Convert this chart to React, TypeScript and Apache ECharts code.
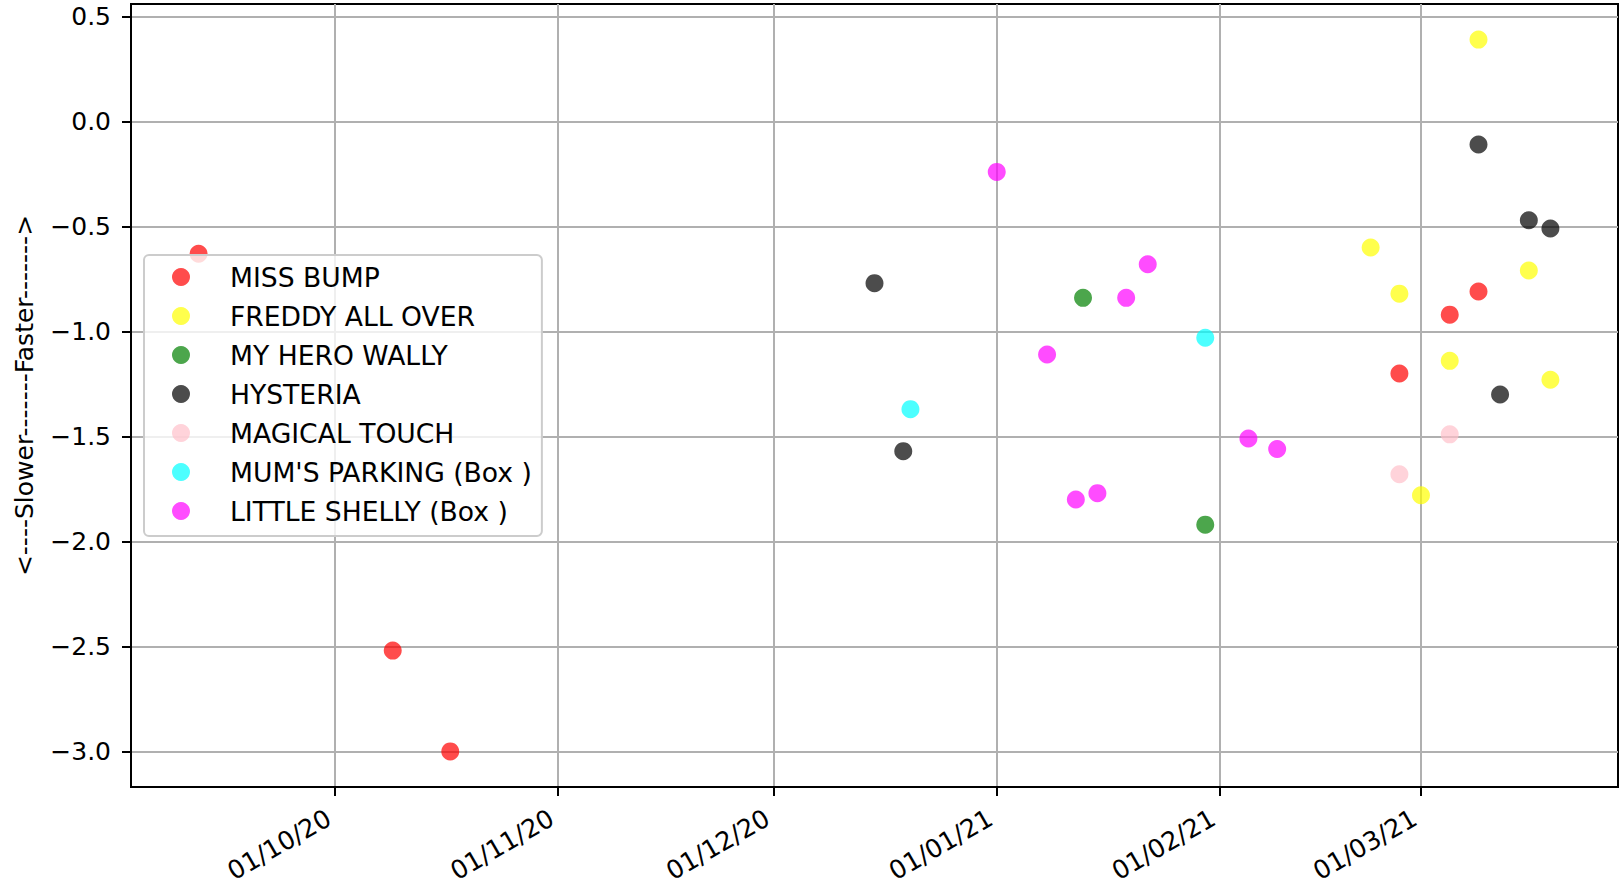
import React, { useEffect, useRef } from "react";
import * as echarts from "echarts";

const FONT = "DejaVu Sans";

const seriesNames = [
  "MISS BUMP",
  "FREDDY ALL OVER",
  "MY HERO WALLY",
  "HYSTERIA",
  "MAGICAL TOUCH",
  "MUM'S PARKING (Box )",
  "LITTLE SHELLY (Box )",
];
const seriesColors = [
  "rgba(255,0,0,0.7)",
  "rgba(255,255,0,0.7)",
  "rgba(0,128,0,0.7)",
  "rgba(0,0,0,0.7)",
  "rgba(255,192,203,0.7)",
  "rgba(0,255,255,0.7)",
  "rgba(255,0,255,0.7)",
];

const missBumpDates = ["2020-09-12", "2020-10-09", "2020-10-17", "2021-02-26", "2021-03-05", "2021-03-09"];
const missBumpValues = [-0.63, -2.52, -3.0, -1.2, -0.92, -0.81];

const freddyDates = ["2021-02-22", "2021-02-26", "2021-03-01", "2021-03-05", "2021-03-09", "2021-03-16", "2021-03-19"];
const freddyValues = [-0.6, -0.82, -1.78, -1.14, 0.39, -0.71, -1.23];

const wallyDates = ["2021-01-13", "2021-01-30"];
const wallyValues = [-0.84, -1.92];

const hysteriaDates = ["2020-12-15", "2020-12-19", "2021-03-09", "2021-03-12", "2021-03-16", "2021-03-19"];
const hysteriaValues = [-0.77, -1.57, -0.11, -1.3, -0.47, -0.51];

const magicalDates = ["2021-02-26", "2021-03-05"];
const magicalValues = [-1.68, -1.49];

const mumsDates = ["2020-12-20", "2021-01-30"];
const mumsValues = [-1.37, -1.03];

const shellyDates = ["2021-01-01", "2021-01-08", "2021-01-12", "2021-01-15", "2021-01-19", "2021-01-22", "2021-02-05", "2021-02-09"];
const shellyValues = [-0.24, -1.11, -1.8, -1.77, -0.84, -0.68, -1.51, -1.56];

const xTickDates = ["2020-10-01", "2020-11-01", "2020-12-01", "2021-01-01", "2021-02-01", "2021-03-01"];
const yTicks = [-3.0, -2.5, -2.0, -1.5, -1.0, -0.5, 0.0, 0.5];
const yAxisTitle = "<----Slower-------Faster------->";

const toTime = (s: string) => {
  const [y, m, d] = s.split("-").map(Number);
  return new Date(y, m - 1, d).getTime();
};
const pad = (n: number) => (n < 10 ? "0" + n : "" + n);

export default function App() {
  const ref = useRef<HTMLDivElement>(null);

  useEffect(() => {
    if (!ref.current) return;
    const chart = echarts.init(ref.current, null, { renderer: "svg" });

    const allDates = [missBumpDates, freddyDates, wallyDates, hysteriaDates, magicalDates, mumsDates, shellyDates];
    const allValues = [missBumpValues, freddyValues, wallyValues, hysteriaValues, magicalValues, mumsValues, shellyValues];

    const times = allDates.flat().map(toTime);
    const vals = allValues.flat();
    const tMin = Math.min(...times);
    const tMax = Math.max(...times);
    const vMin = Math.min(...vals);
    const vMax = Math.max(...vals);
    const tSpan = tMax - tMin;
    const vSpan = vMax - vMin;

    const tickTimes = xTickDates.map(toTime);

    const series = seriesNames.map((name, i) => ({
      name,
      type: "scatter",
      symbol: "circle",
      symbolSize: 18,
      itemStyle: { color: seriesColors[i], opacity: 1 },
      emphasis: { disabled: true },
      data: allDates[i].map((d, j) => [toTime(d), allValues[i][j]]),
    }));

    chart.setOption({
      animation: false,
      backgroundColor: "#ffffff",
      textStyle: { fontFamily: FONT },
      grid: {
        left: 131,
        top: 4,
        right: 1,
        bottom: 101,
        show: true,
        borderColor: "#000000",
        borderWidth: 2,
        backgroundColor: "transparent",
        outerBoundsMode: "none",
      },
      legend: {
        orient: "vertical",
        left: 144,
        top: 255,
        icon: "circle",
        itemWidth: 18,
        itemHeight: 18,
        itemGap: 9,
        padding: [7, 10, 10, 28],
        backgroundColor: "rgba(255,255,255,0.8)",
        borderColor: "#cccccc",
        borderWidth: 2,
        borderRadius: 5,
        selectedMode: false,
        itemStyle: { opacity: 1 },
        textStyle: {
          fontSize: 26.6,
          color: "#000000",
          fontFamily: FONT,
          lineHeight: 30,
          padding: [0, 0, 0, 35],
        },
        data: seriesNames,
      },
      xAxis: {
        type: "value",
        min: tMin - 0.05 * tSpan,
        max: tMax + 0.05 * tSpan,
        axisLine: { show: true, onZero: false, lineStyle: { color: "#000000", width: 2 } },
        axisTick: {
          show: true,
          length: 9,
          lineStyle: { color: "#000000", width: 2 },
          customValues: tickTimes,
        },
        axisLabel: {
          customValues: tickTimes,
          rotate: 30,
          fontSize: 25.5,
          fontFamily: FONT,
          color: "#000000",
          margin: 40,
          align: "right",
          verticalAlign: "bottom",
          formatter: (v: number) => {
            const d = new Date(v);
            return pad(d.getDate()) + "/" + pad(d.getMonth() + 1) + "/" + String(d.getFullYear()).slice(2);
          },
        },
        splitLine: { show: true, lineStyle: { color: "#b0b0b0", width: 2 } },
      },
      yAxis: {
        type: "value",
        min: vMin - 0.05 * vSpan,
        max: vMax + 0.05 * vSpan,
        name: yAxisTitle,
        nameLocation: "middle",
        nameRotate: 90,
        nameGap: 94,
        nameTextStyle: { fontSize: 25, color: "#000000", fontFamily: FONT },
        axisLine: { show: true, onZero: false, lineStyle: { color: "#000000", width: 2 } },
        axisTick: {
          show: true,
          length: 9,
          lineStyle: { color: "#000000", width: 2 },
          customValues: yTicks,
        },
        axisLabel: {
          customValues: yTicks,
          fontSize: 25,
          fontFamily: FONT,
          color: "#000000",
          margin: 20,
          formatter: (v: number) => v.toFixed(1).replace("-", "\u2212"),
        },
        splitLine: { show: true, lineStyle: { color: "#b0b0b0", width: 2 } },
      },
      series,
    });

    return () => chart.dispose();
  }, []);

  return (
    <div
      ref={ref}
      style={{ position: "absolute", left: 0, top: 0, width: 1619, height: 888 }}
    />
  );
}
